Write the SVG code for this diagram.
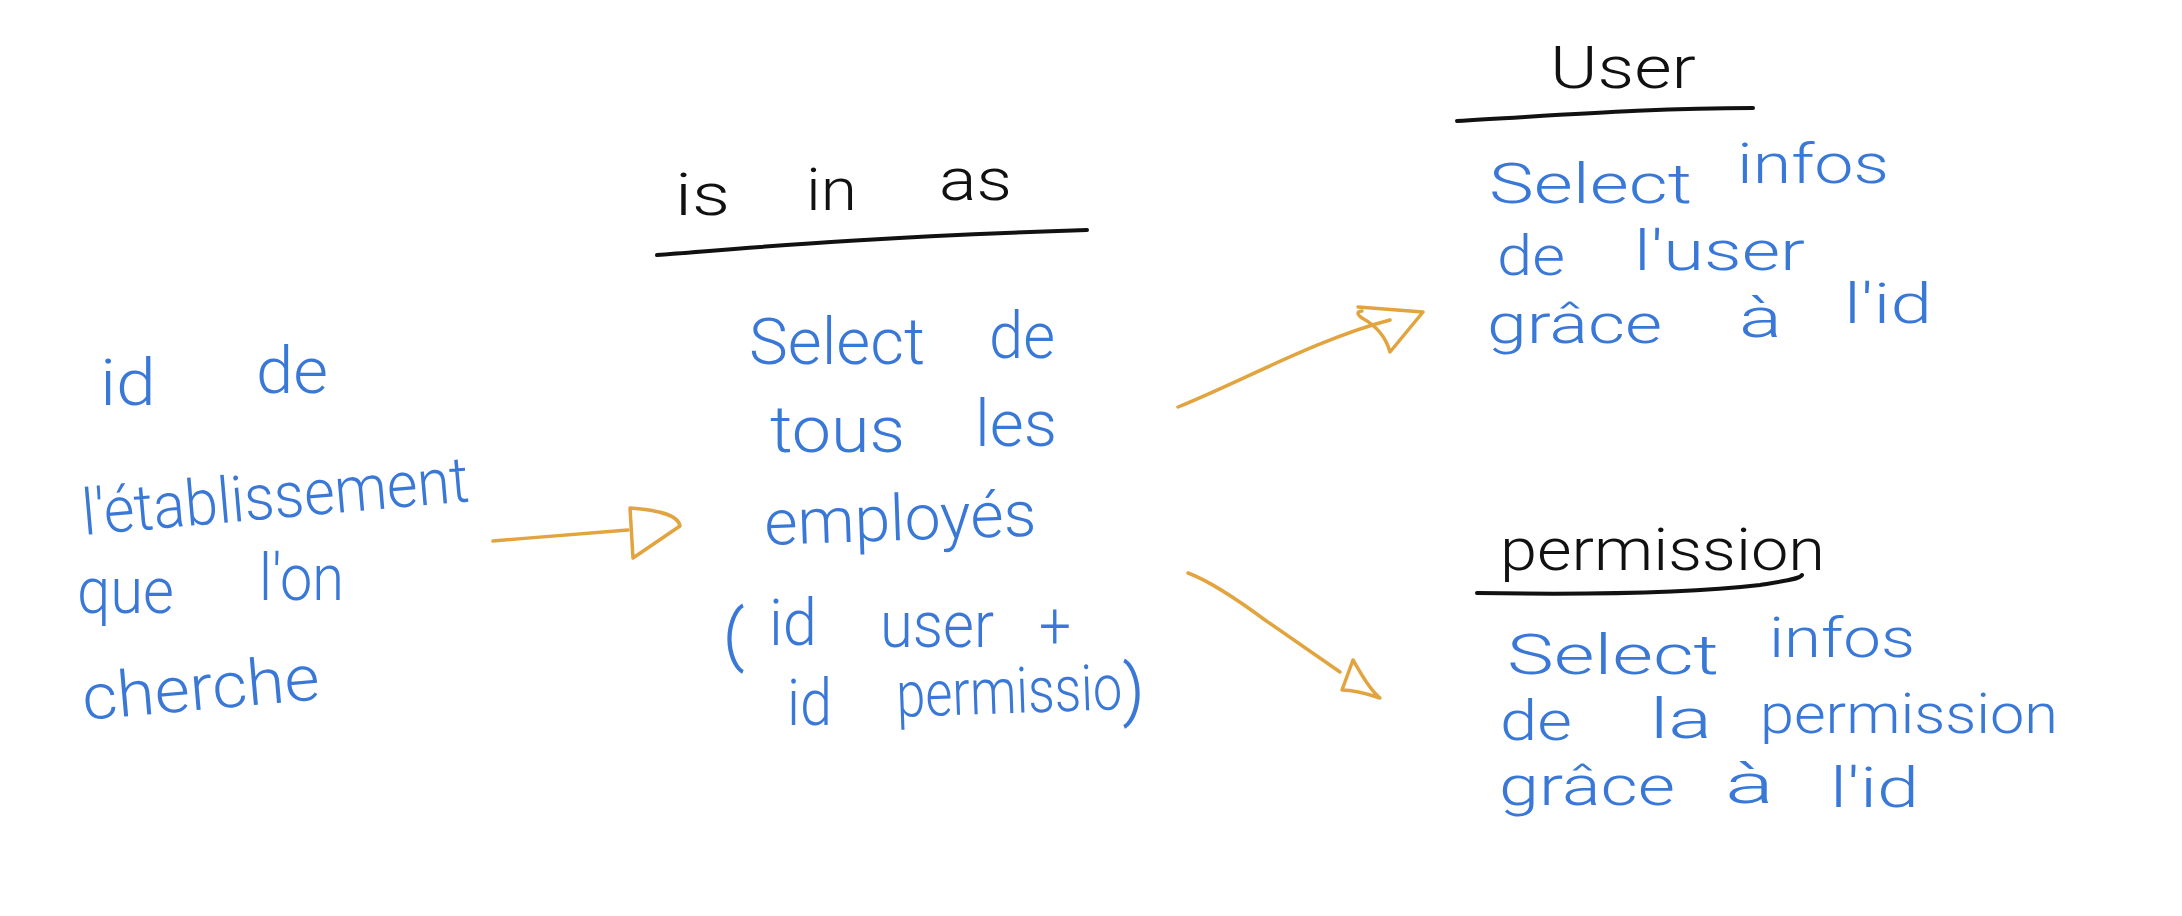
<svg xmlns="http://www.w3.org/2000/svg" width="2182" height="916" viewBox="0 0 2182 916">
<style>
text{font-family:Roboto,"Liberation Sans",sans-serif;font-weight:300;font-size:64px}
.b{fill:#3a78d8}
.r{font-size:55px}
.p{font-weight:100;stroke:#3a78d8;stroke-width:2.5}
.k{fill:#111111;font-size:60px}
.ul{fill:none;stroke:#111111;stroke-width:4;stroke-linecap:round}
.ar{fill:none;stroke:#e2a43f;stroke-width:3.5;stroke-linecap:round;stroke-linejoin:round}
</style>
<rect width="2182" height="916" fill="#ffffff"/>
<g id="connectors">
<path class="ar" d="M493,541 C540,537 590,533 628,530"/>
<path class="ar" d="M630,508 C656,510 678,514 680,526 L633,558 L630,508"/>
<path class="ar" d="M1178,407 C1240,382 1320,338 1390,320"/>
<path class="ar" d="M1358,307 L1423,312 L1390,352 Q1384,330 1362,318 Q1354,312 1362,311"/>
<path class="ar" d="M1188,573 Q1215,583 1265,620 L1340,672"/>
<path class="ar" d="M1353,660 C1362,675 1370,690 1380,698 C1368,694 1355,690 1342,690 L1353,660"/>
</g>
<g id="node-etablissement">
<text class="b" x="100" y="405" textLength="56" lengthAdjust="spacingAndGlyphs" font-size="66">id</text>
<text class="b" x="256" y="393" textLength="72" lengthAdjust="spacingAndGlyphs" font-size="66">de</text>
<text class="b" x="84" y="535" textLength="388" lengthAdjust="spacingAndGlyphs" font-size="66" transform="rotate(-5 84 535)">l'établissement</text>
<text class="b" x="77" y="613" textLength="97" lengthAdjust="spacingAndGlyphs" font-size="66">que</text>
<text class="b" x="259" y="600" textLength="85" lengthAdjust="spacingAndGlyphs" font-size="66">l'on</text>
<text class="b" x="84" y="720" textLength="238" lengthAdjust="spacingAndGlyphs" font-size="66" transform="rotate(-5 84 720)">cherche</text>
</g>
<g id="node-is-in-as">
<text class="k" x="675" y="215" textLength="55" lengthAdjust="spacingAndGlyphs">is</text>
<text class="k" x="806" y="210" textLength="51" lengthAdjust="spacingAndGlyphs">in</text>
<text class="k" x="939" y="200" textLength="73" lengthAdjust="spacingAndGlyphs">as</text>
<path class="ul" d="M657,255 C750,248 850,238 1087,230"/>
<text class="b" x="749" y="364" textLength="176" lengthAdjust="spacingAndGlyphs">Select</text>
<text class="b" x="989" y="358" textLength="66" lengthAdjust="spacingAndGlyphs">de</text>
<text class="b" x="770" y="452" textLength="135" lengthAdjust="spacingAndGlyphs">tous</text>
<text class="b" x="975" y="446" textLength="82" lengthAdjust="spacingAndGlyphs">les</text>
<text class="b" x="765" y="545" textLength="272" lengthAdjust="spacingAndGlyphs" transform="rotate(-2 765 545)">employés</text>
<text class="b p" x="724" y="657" font-size="100">(</text>
<text class="b" x="769" y="645" textLength="48" lengthAdjust="spacingAndGlyphs">id</text>
<text class="b" x="880" y="647" textLength="114" lengthAdjust="spacingAndGlyphs">user</text>
<text class="b" x="1039" y="648" textLength="32" lengthAdjust="spacingAndGlyphs">+</text>
<text class="b" x="787" y="725" textLength="45" lengthAdjust="spacingAndGlyphs">id</text>
<text class="b" x="897" y="717" textLength="226" lengthAdjust="spacingAndGlyphs" transform="rotate(-2 897 717)">permissio</text>
<text class="b p" x="1124" y="712" font-size="130">)</text>
</g>
<g id="node-user">
<text class="k" x="1550" y="88" textLength="146" lengthAdjust="spacingAndGlyphs">User</text>
<path class="ul" d="M1457,121 C1550,116 1650,108 1753,108"/>
<text class="b r" x="1489" y="203" textLength="203" lengthAdjust="spacingAndGlyphs">Select</text>
<text class="b r" x="1737" y="183" textLength="152" lengthAdjust="spacingAndGlyphs">infos</text>
<text class="b r" x="1497" y="275" textLength="68" lengthAdjust="spacingAndGlyphs">de</text>
<text class="b r" x="1634" y="270" textLength="171" lengthAdjust="spacingAndGlyphs">l'user</text>
<text class="b r" x="1487" y="343" textLength="175" lengthAdjust="spacingAndGlyphs">grâce</text>
<text class="b r" x="1739" y="337" textLength="43" lengthAdjust="spacingAndGlyphs">à</text>
<text class="b r" x="1844" y="323" textLength="88" lengthAdjust="spacingAndGlyphs">l'id</text>
</g>
<g id="node-permission">
<text class="k" x="1500" y="570" textLength="325" lengthAdjust="spacingAndGlyphs">permission</text>
<path class="ul" d="M1477,593 C1600,595 1700,592 1760,585 C1785,581 1800,579 1802,575"/>
<text class="b r" x="1507" y="674" textLength="212" lengthAdjust="spacingAndGlyphs">Select</text>
<text class="b r" x="1769" y="657" textLength="146" lengthAdjust="spacingAndGlyphs">infos</text>
<text class="b r" x="1500" y="740" textLength="72" lengthAdjust="spacingAndGlyphs">de</text>
<text class="b r" x="1650" y="738" textLength="62" lengthAdjust="spacingAndGlyphs">la</text>
<text class="b r" x="1760" y="733" textLength="298" lengthAdjust="spacingAndGlyphs">permission</text>
<text class="b r" x="1499" y="805" textLength="176" lengthAdjust="spacingAndGlyphs">grâce</text>
<text class="b r" x="1725" y="803" textLength="49" lengthAdjust="spacingAndGlyphs">à</text>
<text class="b r" x="1830" y="807" textLength="89" lengthAdjust="spacingAndGlyphs">l'id</text>
</g>
</svg>
